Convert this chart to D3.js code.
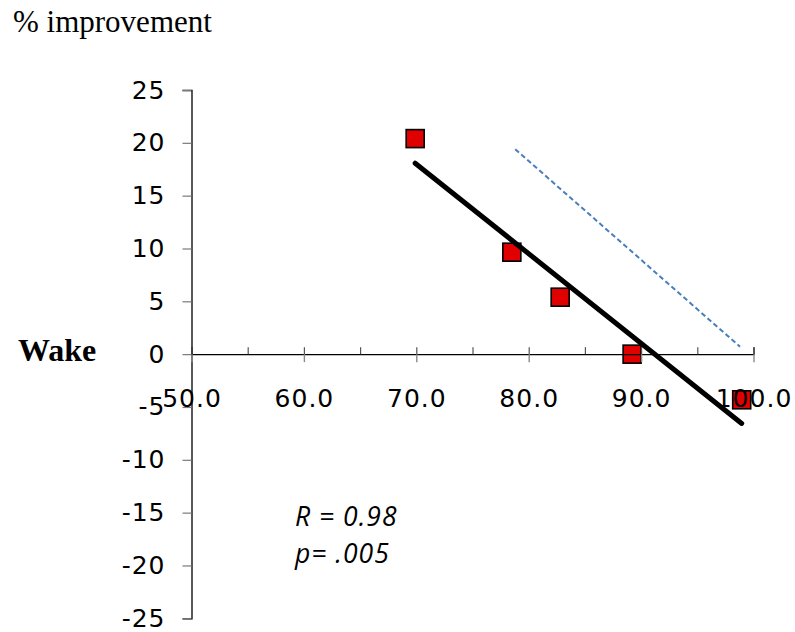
<!DOCTYPE html>
<html>
<head>
<meta charset="utf-8">
<script src="https://cdn.jsdelivr.net/npm/d3@7"></script>
<style>
  html, body { margin: 0; padding: 0; background: #fff; }
  svg { display: block; }
</style>
</head>
<body>
<svg id="chart" width="795" height="632"></svg>
<script>
// Wake-state improvement vs. x value, with least-squares trend line
const pointX = [69.9, 78.5, 82.8, 89.2, 98.95];
const pointY = [20.4, 9.65, 5.39, 0.0, -4.32];

// reference guide line (two end points)
const guideX = [78.8, 98.8];
const guideY = [19.4, 0.7];

const xTicks = [50, 60, 70, 80, 90, 100];
const xMinorTicks = [50, 55, 60, 65, 70, 75, 80, 85, 90, 95, 100];
const yTicks = [-25, -20, -15, -10, -5, 0, 5, 10, 15, 20, 25];

const titleText = "% improvement";
const sideLabel = "Wake";
const statLines = ["R = 0.98", "p= .005"];

const svg = d3.select("#chart");

const x = d3.scaleLinear().domain([50, 100]).range([191.5, 753.5]);
const y = d3.scaleLinear().domain([-25, 25]).range([618.3, 90]);

const axisFont = "'DejaVu Sans', Verdana, sans-serif";

// markers
const points = pointX.map((v, i) => ({ x: v, y: pointY[i] }));
const size = 18;
svg.append("g")
  .selectAll("rect")
  .data(points)
  .join("rect")
  .attr("x", d => x(d.x) - size / 2)
  .attr("y", d => y(d.y) - size / 2)
  .attr("width", size)
  .attr("height", size)
  .attr("fill", "#e00000")
  .attr("stroke", "#000")
  .attr("stroke-width", 1.6);

// y axis
const yAxis = svg.append("g")
  .attr("transform", `translate(${x(50)},0)`)
  .call(d3.axisLeft(y).tickValues(yTicks).tickSize(9).tickPadding(17).tickFormat(d => String(d)));
yAxis.select(".domain").attr("stroke", "#000").attr("stroke-width", 1.3);
yAxis.selectAll(".tick line").attr("stroke", "#7a7a7a").attr("stroke-width", 1.2);
yAxis.selectAll(".tick text")
  .attr("font-family", axisFont).attr("font-size", 25)
  .attr("letter-spacing", "1px").attr("fill", "#000");

// x axis: minor ticks pointing up
const xMinor = svg.append("g")
  .attr("transform", `translate(0,${y(0)})`)
  .call(d3.axisBottom(x).tickValues(xMinorTicks).tickSize(-7).tickFormat(""));
xMinor.select(".domain").attr("stroke", "#000").attr("stroke-width", 1.3);
xMinor.selectAll(".tick line").attr("stroke", "#555").attr("stroke-width", 1.2);

// x axis: major ticks crossing, with labels
const xAxis = svg.append("g")
  .attr("transform", `translate(0,${y(0)})`)
  .call(d3.axisBottom(x).tickValues(xTicks).tickSize(8).tickPadding(27).tickFormat(d3.format(".1f")));
xAxis.select(".domain").remove();
xAxis.selectAll(".tick line").attr("stroke", "#8a8a8a").attr("stroke-width", 1.4);
xAxis.selectAll(".tick text")
  .attr("font-family", axisFont).attr("font-size", 25)
  .attr("letter-spacing", "1px").attr("fill", "#000");

// guide line
svg.append("line")
  .attr("x1", x(guideX[0])).attr("y1", y(guideY[0]))
  .attr("x2", x(guideX[1])).attr("y2", y(guideY[1]))
  .attr("stroke", "#4a7ebb").attr("stroke-width", 2)
  .attr("stroke-dasharray", "5,3");

// least-squares fit
const mx = d3.mean(pointX), my = d3.mean(pointY);
const sxy = d3.sum(pointX, (v, i) => (v - mx) * (pointY[i] - my));
const sxx = d3.sum(pointX, v => (v - mx) * (v - mx));
const slope = sxy / sxx;
const intercept = my - slope * mx;
const [x0, x1] = d3.extent(pointX);
svg.append("line")
  .attr("x1", x(x0)).attr("y1", y(intercept + slope * x0))
  .attr("x2", x(x1)).attr("y2", y(intercept + slope * x1))
  .attr("stroke", "#000").attr("stroke-width", 5)
  .attr("stroke-linecap", "round");

// title and side label
svg.append("text")
  .attr("x", 13).attr("y", 32)
  .attr("font-family", "'Liberation Serif', 'Times New Roman', serif")
  .attr("font-size", 31)
  .text(titleText);

svg.append("text")
  .attr("x", 18).attr("y", 361)
  .attr("font-family", "'Liberation Serif', 'Times New Roman', serif")
  .attr("font-size", 32).attr("font-weight", "bold")
  .text(sideLabel);

// statistics
svg.append("g")
  .selectAll("text")
  .data(statLines)
  .join("text")
  .attr("x", 295)
  .attr("y", (d, i) => 526 + i * 37)
  .attr("font-family", "'Open Sans', 'Noto Sans', sans-serif")
  .attr("font-style", "italic")
  .attr("font-size", 26.5)
  .attr("letter-spacing", "1px")
  .text(d => d);
</script>
</body>
</html>
